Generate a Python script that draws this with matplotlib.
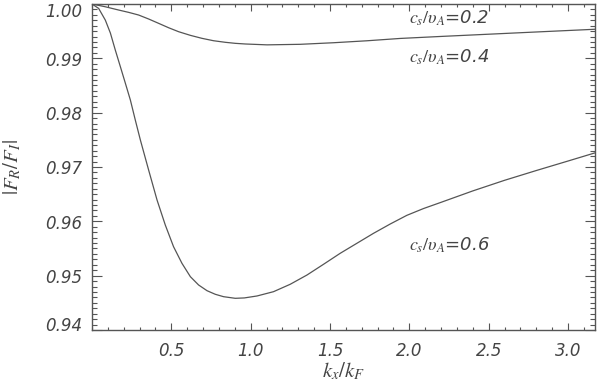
import numpy as np
import matplotlib.pyplot as plt
from matplotlib.ticker import MultipleLocator, FormatStrFormatter

# values
k04 = [0.0, 0.084, 0.168, 0.231, 0.294, 0.357, 0.420, 0.483, 0.546, 0.620,
       0.693, 0.766, 0.840, 0.903, 0.966, 1.103, 1.312, 1.522, 1.732, 1.942,
       2.20, 2.50, 2.80, 3.17]
r04 = [1.0, 0.99949, 0.99889, 0.99846, 0.99797, 0.99724, 0.99644, 0.99563,
       0.99490, 0.99423, 0.99368, 0.99324, 0.99295, 0.99276, 0.99264, 0.99248,
       0.99258, 0.99287, 0.99323, 0.99366, 0.99403, 0.99444, 0.99485, 0.99535]

k06 = [0.0, 0.042, 0.084, 0.116, 0.147, 0.179, 0.210, 0.242, 0.273, 0.305,
       0.357, 0.410, 0.462, 0.514, 0.567, 0.620, 0.672, 0.725, 0.777, 0.829,
       0.903, 0.960, 1.040, 1.144, 1.249, 1.355, 1.459, 1.564, 1.669, 1.774,
       1.879, 1.984, 2.089, 2.20, 2.40, 2.60, 2.80, 3.00, 3.17]
r06 = [1.0, 0.99919, 0.99704, 0.99465, 0.99152, 0.98845, 0.98545, 0.98232,
       0.97864, 0.97496, 0.96944, 0.96392, 0.95932, 0.95533, 0.95227, 0.94981,
       0.94828, 0.94723, 0.94657, 0.94613, 0.94583, 0.94590, 0.94626, 0.94705,
       0.94841, 0.95012, 0.95209, 0.95411, 0.95595, 0.95779, 0.95950, 0.96110,
       0.96235, 0.96350, 0.96560, 0.96755, 0.96935, 0.97110, 0.97260]

k02 = [0.0, 1.0, 2.0, 3.17]
r02 = [1.0, 0.99995, 0.99995, 0.99997]

labels = [r"$c_s/\upsilon_A$=0.2", r"$c_s/\upsilon_A$=0.4", r"$c_s/\upsilon_A$=0.6"]
label_xy = [(2.0, 0.9974), (2.0, 0.9901), (2.0, 0.9556)]

yticks = [0.94, 0.95, 0.96, 0.97, 0.98, 0.99, 1.00]
xticks = [0.5, 1.0, 1.5, 2.0, 2.5, 3.0]

plt.rcParams["mathtext.fontset"] = "stix"
plt.rcParams["font.family"] = "DejaVu Sans"
ink = "#555555"
txt = "#444444"

fig = plt.figure(figsize=(6, 3.92), dpi=100)
ax = fig.add_axes([0.1533, 0.1582, 0.8384, 0.8316])

for k, r in [(k02, r02), (k04, r04), (k06, r06)]:
    ax.plot(k, r, color=ink, lw=0.9)

for lbl, (x, y) in zip(labels, label_xy):
    ax.text(x, y, lbl, fontsize=13, style="italic", color=txt, va="center")

ax.set_xlim(0, 3.17)
ax.set_ylim(0.94, 1.0)
ax.set_xticks(xticks)
ax.xaxis.set_minor_locator(MultipleLocator(0.1))
ax.set_yticks(yticks)
ax.yaxis.set_minor_locator(MultipleLocator(0.001))
ax.xaxis.set_major_formatter(FormatStrFormatter("%.1f"))

ax.tick_params(which="both", direction="in", top=True, right=True, color=ink,
               width=0.8, labelcolor=txt, labelsize=12, labelleft=False)
ax.tick_params(axis="x", which="major", length=4.7, pad=9)
ax.tick_params(axis="x", which="minor", length=2.4)
ax.tick_params(axis="y", which="major", length=7.2)
ax.tick_params(axis="y", which="minor", length=3.6)
for lab in ax.get_xticklabels():
    lab.set_style("italic")

# y tick labels: the end labels sit pulled inside the frame as in the original
for v in yticks:
    off = -2.5
    if v == yticks[0]:
        off = 4
    elif v == yticks[-1]:
        off = -8
    ax.annotate(f"{v:.2f}", xy=(0, v), xycoords=("axes fraction", "data"),
                xytext=(-10, off), textcoords="offset pixels", ha="right",
                va="center", fontsize=12, style="italic", color=txt)

for s in ax.spines.values():
    s.set_color(ink)
    s.set_linewidth(1.0)

ax.set_xlabel(r"$k_x/k_F$", fontsize=15, color=txt, labelpad=0)
ax.set_ylabel(r"$|F_R/F_I|$", fontsize=15, color=txt)
ax.yaxis.set_label_coords(-0.137, 0.5)

fig.savefig("out.png", dpi=100)
